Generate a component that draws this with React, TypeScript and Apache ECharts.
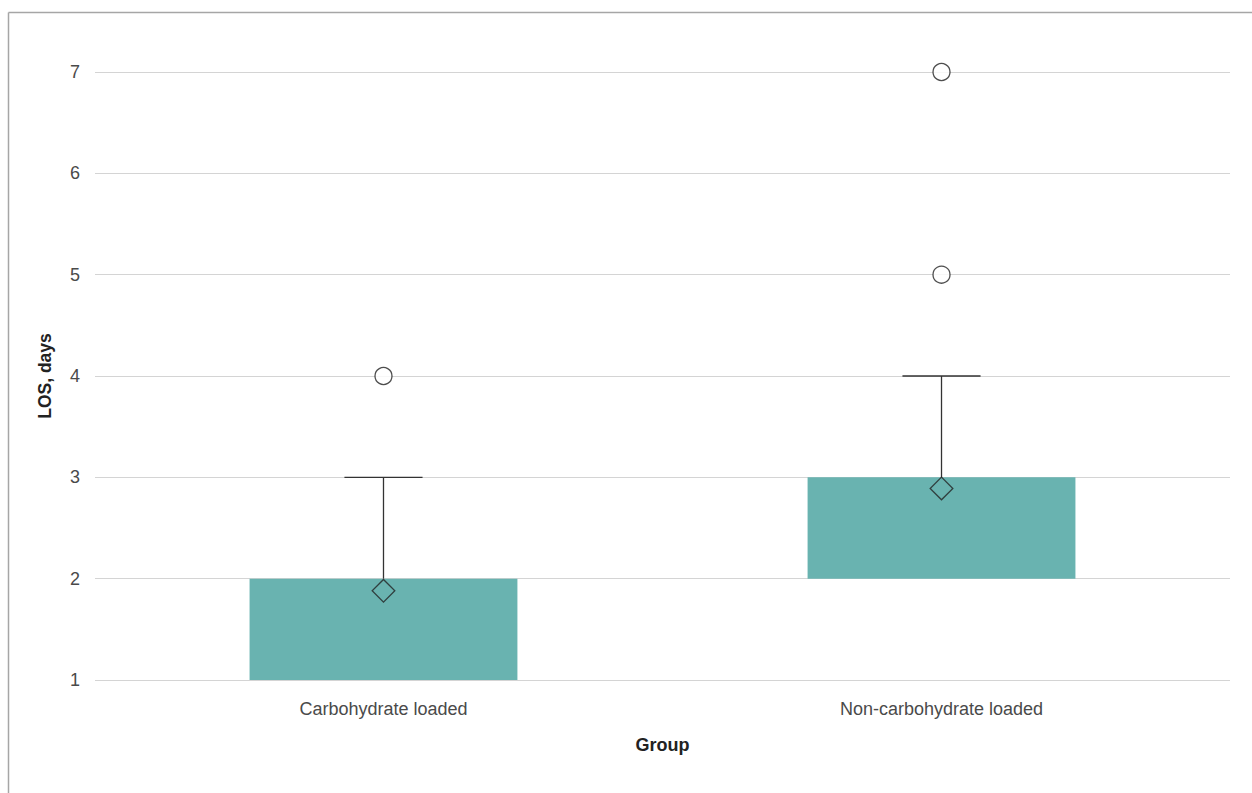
import React, { useEffect, useRef } from "react";
import * as echarts from "echarts";

const categories = ["Carbohydrate loaded", "Non-carbohydrate loaded"];
const q1 = [1, 2];
const q3 = [2, 3];
const whiskerLow = [1, 2];
const whiskerHigh = [3, 4];
const means = [1.88, 2.89];
const outliers: [number, number][] = [
  [0, 4],
  [1, 5],
  [1, 7],
];
const yTicks = [1, 2, 3, 4, 5, 6, 7];

export default function App() {
  const ref = useRef<HTMLDivElement>(null);
  useEffect(() => {
    if (!ref.current) return;
    const chart = echarts.init(ref.current, null, { renderer: "svg" });
    const font = "Helvetica, 'Liberation Sans', Arial, sans-serif";
    const boxData = categories.map((_, i) => [i, q1[i], q3[i], whiskerLow[i], whiskerHigh[i]]);
    chart.setOption({
      animation: false,
      backgroundColor: "#ffffff",
      grid: { left: 95, right: 22, top: 72, bottom: 113 },
      xAxis: {
        type: "value",
        min: -0.517,
        max: 1.517,
        name: "Group",
        nameLocation: "middle",
        nameGap: 56,
        nameTextStyle: { fontFamily: font, fontSize: 18, fontWeight: "bold", color: "#222" },
        axisLine: { show: false },
        axisTick: { show: false },
        splitLine: { show: false },
        axisLabel: {
          customValues: [0, 1],
          formatter: (v: number) => categories[Math.round(v)] ?? "",
          fontFamily: font,
          fontSize: 18,
          color: "#4a4a4a",
          margin: 20,
        },
      },
      yAxis: {
        type: "value",
        min: yTicks[0],
        max: yTicks[yTicks.length - 1],
        interval: 1,
        name: "LOS, days",
        nameLocation: "middle",
        nameGap: 41,
        nameTextStyle: { fontFamily: font, fontSize: 17.5, fontWeight: "bold", color: "#222" },
        axisLine: { show: false },
        axisTick: { show: false },
        splitLine: { show: true, lineStyle: { color: "#d4d4d4", width: 1.2 } },
        axisLabel: { fontFamily: font, fontSize: 18, color: "#4a4a4a", margin: 15 },
      },
      graphic: [
        { type: "line", shape: { x1: 8.5, y1: 12.5, x2: 1252, y2: 12.5 }, style: { stroke: "#a6a6a6", lineWidth: 1.5 } },
        { type: "line", shape: { x1: 8.5, y1: 12.5, x2: 8.5, y2: 793 }, style: { stroke: "#a6a6a6", lineWidth: 1.5 } },
      ],
      series: [
        {
          type: "custom",
          data: boxData,
          renderItem: (_params: any, api: any) => {
            const x = api.value(0);
            const lo = api.value(1);
            const hi = api.value(2);
            const wl = api.value(3);
            const wh = api.value(4);
            const halfW = 0.24;
            const capW = 0.07;
            const pLL = api.coord([x - halfW, lo]);
            const pHR = api.coord([x + halfW, hi]);
            const pc = api.coord([x, hi]);
            const pw = api.coord([x, wh]);
            const pcl = api.coord([x - capW, wh]);
            const pcr = api.coord([x + capW, wh]);
            const pLo = api.coord([x, lo]);
            const pWl = api.coord([x, wl]);
            const pcll = api.coord([x - capW, wl]);
            const pclr = api.coord([x + capW, wl]);
            const children: any[] = [
              {
                type: "rect",
                shape: { x: pLL[0], y: pHR[1], width: pHR[0] - pLL[0], height: pLL[1] - pHR[1] },
                style: { fill: "#69b3b0" },
              },
            ];
            if (wh > hi) {
              children.push(
                { type: "line", shape: { x1: pc[0], y1: pc[1], x2: pw[0], y2: pw[1] }, style: { stroke: "#333", lineWidth: 1.3 } },
                { type: "line", shape: { x1: pcl[0], y1: pcl[1], x2: pcr[0], y2: pcr[1] }, style: { stroke: "#333", lineWidth: 1.3 } }
              );
            }
            if (wl < lo) {
              children.push(
                { type: "line", shape: { x1: pLo[0], y1: pLo[1], x2: pWl[0], y2: pWl[1] }, style: { stroke: "#333", lineWidth: 1.3 } },
                { type: "line", shape: { x1: pcll[0], y1: pcll[1], x2: pclr[0], y2: pclr[1] }, style: { stroke: "#333", lineWidth: 1.3 } }
              );
            }
            return { type: "group", children };
          },
          z: 2,
        },
        {
          type: "scatter",
          data: means.map((m, i) => [i, m]),
          symbol: "rect",
          symbolRotate: 45,
          symbolSize: 16,
          itemStyle: { color: "rgba(0,0,0,0)", borderColor: "#222", borderWidth: 1.3 },
          z: 3,
        },
        {
          type: "scatter",
          data: outliers,
          symbol: "circle",
          symbolSize: 17,
          itemStyle: { color: "#ffffff", borderColor: "#222", borderWidth: 1.3 },
          z: 3,
        },
      ],
    });
    return () => chart.dispose();
  }, []);
  return <div ref={ref} style={{ position: "absolute", left: 0, top: 0, width: 1252, height: 793 }} />;
}
